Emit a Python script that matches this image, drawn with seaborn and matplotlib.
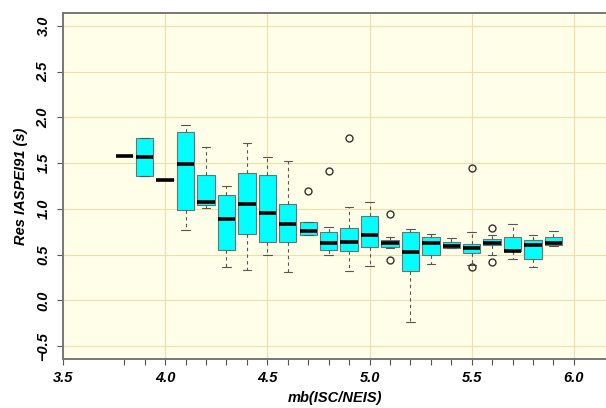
import matplotlib
matplotlib.use("Agg")
import matplotlib.pyplot as plt
import seaborn as sns

# magnitude bins (box positions)
mb = [3.8, 3.9, 4.0, 4.1, 4.2, 4.3, 4.4, 4.5, 4.6, 4.7, 4.8,
      4.9, 5.0, 5.1, 5.2, 5.3, 5.4, 5.5, 5.6, 5.7, 5.8, 5.9]

# box statistics (residuals, s)
whislo = [1.58, 1.36, 1.32, 0.77, 1.01, 0.36, 0.33, 0.50, 0.31, 0.71, 0.50,
          0.32, 0.38, 0.57, -0.24, 0.40, 0.576, 0.39, 0.50, 0.45, 0.37, 0.59]
q1 = [1.58, 1.36, 1.32, 0.99, 1.04, 0.55, 0.73, 0.64, 0.64, 0.717, 0.55,
      0.54, 0.58, 0.58, 0.32, 0.50, 0.576, 0.52, 0.60, 0.54, 0.453, 0.60]
med = [1.58, 1.57, 1.32, 1.49, 1.07, 0.89, 1.05, 0.96, 0.83, 0.755, 0.63,
       0.64, 0.717, 0.63, 0.53, 0.625, 0.59, 0.57, 0.63, 0.545, 0.609, 0.625]
q3 = [1.58, 1.775, 1.32, 1.84, 1.37, 1.15, 1.39, 1.37, 1.05, 0.862, 0.746,
      0.79, 0.917, 0.665, 0.746, 0.69, 0.638, 0.62, 0.668, 0.69, 0.665, 0.69]
whishi = [1.58, 1.775, 1.32, 1.92, 1.68, 1.25, 1.72, 1.57, 1.52, 0.862, 0.80,
          1.02, 1.07, 0.69, 0.783, 0.728, 0.685, 0.748, 0.71, 0.84, 0.71, 0.76]
outliers = [[], [], [], [], [], [], [], [], [], [1.19], [1.41],
            [1.77], [], [0.94, 0.44], [], [], [], [1.45, 0.36], [0.79, 0.42], [], [], []]

xticks = [3.5, 4.0, 4.5, 5.0, 5.5, 6.0]
yticks = [-0.5, 0.0, 0.5, 1.0, 1.5, 2.0, 2.5, 3.0]

sns.set_theme(style="ticks")
plt.rcParams['font.family'] = ['Liberation Sans', 'DejaVu Sans']
plt.rcParams['font.weight'] = 'bold'
plt.rcParams['font.style'] = 'italic'
plt.rcParams['axes.labelweight'] = 'bold'
plt.rcParams['text.color'] = 'black'
plt.rcParams['axes.labelcolor'] = 'black'
plt.rcParams['xtick.labelcolor'] = 'black'
plt.rcParams['ytick.labelcolor'] = 'black'

fig = plt.figure(figsize=(6.06, 4.08), dpi=100)
ax = fig.add_axes([63 / 606, 49 / 408, 1 - 63 / 606, 346 / 408])
ax.set_facecolor('#FFFEE8')

stats = []
for i in range(len(mb)):
    stats.append(dict(med=med[i], q1=q1[i], q3=q3[i], whislo=whislo[i],
                      whishi=whishi[i], fliers=outliers[i], label=''))

ax.bxp(stats, positions=mb, widths=0.085, patch_artist=True, manage_ticks=False,
       capwidths=0.042,
       boxprops=dict(facecolor='#00FFFF', edgecolor='#707070', linewidth=0.8),
       medianprops=dict(color='black', linewidth=2.6, solid_capstyle='butt'),
       whiskerprops=dict(color='#555555', linestyle=(0, (3, 3)), linewidth=0.8),
       capprops=dict(color='#555555', linewidth=0.8),
       flierprops=dict(marker='o', markerfacecolor='none', markeredgecolor='#333333',
                       markersize=5, markeredgewidth=1.0))

ax.set_xlim(3.5, 6.157)
ax.set_ylim(-0.64, 3.14)
ax.set_xticks(xticks)
ax.set_xticks(mb, minor=True)
ax.set_yticks(yticks)
ax.set_yticklabels([f"{v:.1f}".replace('-', '\u2212') for v in yticks],
                   rotation=90, va='center')
ax.set_xticklabels([f"{v:.1f}" for v in xticks])

ax.set_axisbelow(True)
ax.grid(which='major', color='#F3DDA8', linewidth=0.8)
ax.tick_params(which='both', direction='out', length=4, width=0.8, color='#555555',
               labelsize=10.5, pad=5)

for side in ['left', 'bottom', 'top']:
    ax.spines[side].set_color('#777777')
    ax.spines[side].set_linewidth(1.4)
ax.spines['right'].set_visible(False)

ax.set_xlabel("mb(ISC/NEIS)", fontsize=10.5, labelpad=4)
ax.set_ylabel("Res IASPEI91 (s)", fontsize=10.5, labelpad=6)

fig.savefig("out.png", dpi=100)
